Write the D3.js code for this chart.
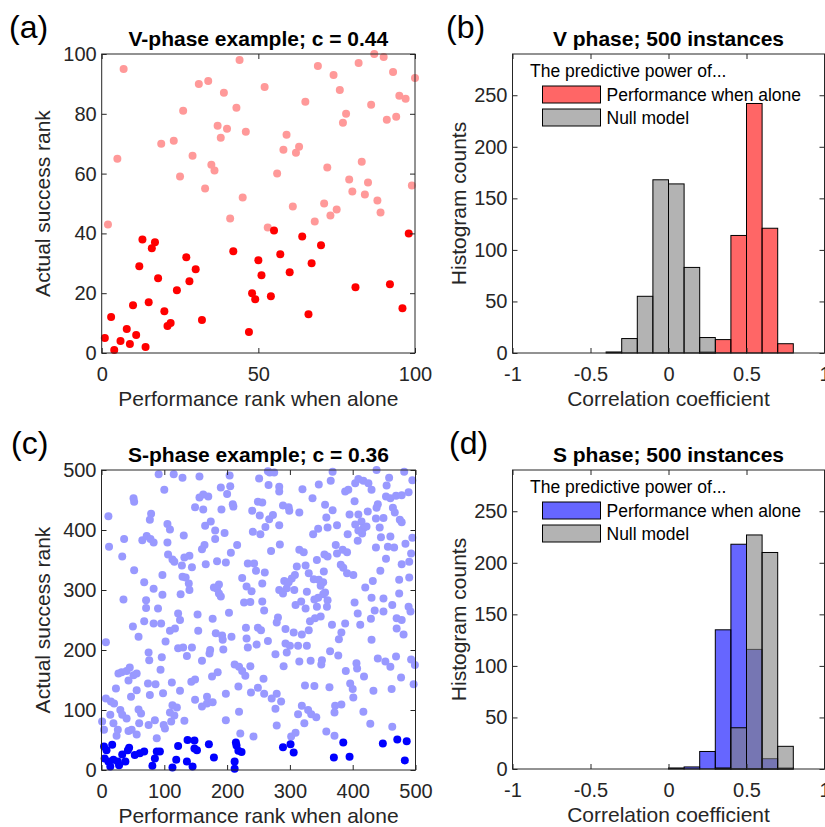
<!DOCTYPE html>
<html lang="en">
<head>
<meta charset="UTF-8">
<title>Predictive power of performance when alone</title>
<script src="https://cdn.jsdelivr.net/npm/d3@7/dist/d3.min.js"></script>
<style>
body { margin: 0; background: #fff; }
text { font-family: Arial, "Liberation Sans", Helvetica, sans-serif; }
.axis .tick text { fill: #262626; font-size: 20px; }
.axis .tick line { stroke: #262626; }
.axis path { display: none; }
</style>
</head>
<body>
<svg width="825" height="827"></svg>
<script>
// ---- panel (a): V-phase example, 100 agents ----
var vTopPts = [[7,95],[44,98],[87,100],[90,99],[69,96],[82,97],[74,93],[93,94],[100,92],[31,90],[34,91],[39,87],[52,89],[76,88],[95,86],[97,85],[65,84],[86,83],[43,82],[26,81],[78,80],[77,77],[91,78],[94,79],[37,76],[40,75],[46,74],[38,72],[59,73],[19,70],[23,71],[58,68],[63,69],[62,67],[5,65],[29,66],[35,63],[36,61],[72,62],[83,64],[56,60],[25,59],[79,58],[85,57],[99,56],[33,55],[80,54],[84,53],[45,52],[88,51],[71,50],[61,49],[89,47],[75,48],[73,46],[41,45],[68,44],[2,43],[53,42]];
var vBottomPts = [[55,41],[98,40],[13,38],[17,37],[16,35],[64,39],[70,36],[42,34],[57,33],[27,32],[50,31],[67,30],[12,29],[30,28],[60,27],[51,26],[18,25],[28,24],[92,23],[81,22],[24,21],[48,20],[54,19],[49,18],[15,17],[10,16],[96,15],[20,14],[66,13],[3,12],[32,11],[22,10],[21,9],[8,8],[47,7],[11,6],[1,5],[6,4],[9,3],[14,2],[4,1]];

// ---- panel (c): S-phase example, 500 agents ----
var sTopPts = [
[91,493],[115,493],[129,487],[156,489],[204,491],[100,467],[190,471],[205,473],[200,460],[51,453],[52,447],[156,454],[162,459],[170,456],[209,443],[210,439],[11,423],[79,427],[77,417],[149,438],[162,434],[191,434],[240,432],[105,410],[109,401],[165,407],[174,414],[181,399],[196,395],[241,397],[36,385],[65,383],[72,390],[78,385],[83,379],[105,379],[131,391],[181,385],[12,372],[164,375],[160,368],[216,375],[33,356],[106,359],[113,351],[116,347],[132,354],[140,357],[206,362],[166,343],[184,348],[198,346],[128,341],[144,338],[233,344],[243,344],[52,333],[97,325],[129,322],[134,321],[139,311],[140,300],[224,320],[68,313],[83,302],[97,292],[126,293],[179,304],[187,309],[184,302],[187,294],[190,289],[231,306],[239,298],[35,284],[71,283],[71,270],[90,269],[227,279],[237,280],[122,261],[153,259],[203,262],
[265,498],[268,496],[275,496],[368,497],[438,500],[482,497],[495,483],[251,486],[266,475],[283,472],[283,464],[320,468],[346,476],[365,482],[404,478],[409,485],[417,482],[425,478],[430,467],[458,487],[454,474],[453,456],[460,453],[469,457],[478,458],[489,463],[388,464],[393,467],[249,447],[256,446],[336,453],[403,448],[289,441],[298,438],[299,432],[315,429],[356,442],[368,433],[440,443],[438,437],[464,437],[467,429],[424,431],[395,426],[409,426],[437,419],[449,420],[475,417],[478,413],[252,424],[267,418],[273,425],[283,408],[261,405],[358,421],[360,404],[375,408],[345,402],[337,393],[404,409],[414,414],[417,403],[422,406],[415,394],[409,399],[443,404],[253,393],[392,393],[495,387],[445,388],[460,389],[408,382],[484,377],[284,376],[373,375],[437,371],[456,372],[466,371],[493,361],[270,365],[315,367],[322,363],[355,359],[360,356],[375,361],[384,367],[391,363],[343,350],[453,352],[478,343],[490,347],[311,339],[325,341],[381,342],[385,337],[391,328],[401,325],[354,331],[308,325],[330,328],[338,318],[260,329],[246,332],[444,332],[474,317],[490,321],[303,319],[291,315],[298,313],[346,317],[353,313],[349,307],[356,296],[353,293],[432,315],[420,304],[256,311],[283,300],[295,303],[307,300],[289,294],[327,297],[345,287],[339,284],[360,283],[430,287],[449,286],[474,294],[318,281],[309,275],[325,269],[343,272],[359,272],[403,279],[463,275],[256,281],[259,266],[435,266],[449,264],[489,272],[492,264],[408,261],
[68,248],[83,244],[95,244],[125,250],[177,252],[50,239],[7,213],[59,222],[109,232],[117,236],[102,214],[154,232],[182,228],[192,224],[193,217],[207,222],[230,237],[231,219],[122,203],[130,204],[144,204],[136,190],[173,200],[172,194],[194,201],[233,204],[75,196],[76,183],[96,188],[160,182],[212,176],[219,172],[224,165],[229,157],[237,173],[27,161],[32,163],[40,165],[45,171],[51,158],[56,161],[43,149],[94,167],[74,144],[86,143],[112,146],[143,147],[149,151],[176,156],[185,163],[23,136],[56,133],[47,122],[77,125],[98,128],[125,132],[168,122],[149,117],[198,127],[218,139],[238,129],[7,119],[15,114],[20,111],[160,106],[168,111],[177,113],[30,100],[33,92],[40,86],[14,92],[1,81],[19,78],[4,67],[26,67],[24,57],[59,101],[63,94],[60,78],[75,75],[85,83],[101,69],[99,75],[109,96],[113,108],[120,104],[116,91],[111,81],[132,82],[43,65],[48,67],[56,59],[88,53],[198,83],[219,97],[221,61],[242,56],
[281,254],[279,246],[332,248],[340,253],[349,256],[367,242],[388,244],[412,242],[429,252],[470,253],[478,250],[249,237],[254,233],[293,235],[306,229],[319,226],[330,233],[382,229],[378,218],[470,236],[481,226],[247,209],[265,215],[293,211],[300,207],[313,207],[327,207],[277,193],[295,196],[364,198],[377,191],[430,217],[315,181],[333,182],[351,183],[350,176],[406,178],[407,169],[389,165],[418,156],[440,186],[452,181],[460,172],[469,189],[493,184],[499,175],[290,173],[477,154],[497,143],[258,152],[249,137],[259,127],[271,119],[279,127],[286,114],[277,102],[324,141],[339,140],[363,138],[396,144],[400,135],[401,121],[433,132],[462,135],[319,107],[329,100],[334,93],[342,88],[313,93],[323,78],[372,107],[382,109],[371,96],[417,97],[428,77],[279,74],[302,56],[309,62],[358,64],[371,57],[463,72]
];
var sBottomPts = [[4,39],[17,42],[8,33],[5,19],[11,14],[19,17],[14,6],[26,14],[28,8],[33,26],[42,33],[44,37],[38,14],[53,25],[61,28],[68,31],[88,31],[93,31],[85,19],[81,7],[122,40],[137,50],[148,49],[148,36],[152,33],[171,43],[119,17],[136,14],[113,4],[145,6],[179,21],[214,46],[215,41],[218,32],[223,30],[212,14],[212,2],[289,38],[301,43],[306,29],[370,21],[385,46],[395,22],[448,44],[471,51],[486,48],[483,16]];

// ---- panels (b), (d): histograms of correlation coefficients, 500 instances ----
var binEdges = [-1,-0.9,-0.8,-0.7,-0.6,-0.5,-0.4,-0.3,-0.2,-0.1,0,0.1,0.2,0.3,0.4,0.5,0.6,0.7,0.8,0.9,1];
var vPerfCounts = [0,0,0,0,0,0,0,0,0,0,0,0,1,13,114,242,121,9,0,0];
var vNullCounts = [0,0,0,0,0,0,1,14,55,168,164,83,15,0,0,0,0,0,0,0];
var sPerfCounts = [0,0,0,0,0,0,0,0,0,0,1,2,17,135,218,116,10,1,0,0];
var sNullCounts = [0,0,0,0,0,0,0,0,0,0,0,0,0,1,40,227,210,22,0,0];

var rankTicksV = [0,20,40,60,80,100];
var rankTicksXV = [0,50,100];
var rankTicksS = [0,100,200,300,400,500];
var corrTicks = [-1,-0.5,0,0.5,1];
var countTicks = [0,50,100,150,200,250];

var svg = d3.select("svg");
var axisColor = "#262626";
var plain = function(d) { return String(d); };   // keep "-1" with a hyphen, like the original

function frame(x, y, xTicks, yTicks) {
  var x0 = x.range()[0], x1 = x.range()[1], y0 = y.range()[0], y1 = y.range()[1];
  var g = svg.append("g");
  g.append("g").attr("class", "axis").attr("transform", "translate(0," + y0 + ")")
    .call(d3.axisBottom(x).tickValues(xTicks).tickSizeInner(-5).tickSizeOuter(0).tickPadding(14).tickFormat(plain));
  g.append("g").attr("class", "axis").attr("transform", "translate(0," + y1 + ")")
    .call(d3.axisTop(x).tickValues(xTicks).tickSizeInner(-5).tickSizeOuter(0).tickFormat(""));
  g.append("g").attr("class", "axis").attr("transform", "translate(" + x0 + ",0)")
    .call(d3.axisLeft(y).tickValues(yTicks).tickSizeInner(-5).tickSizeOuter(0).tickPadding(5).tickFormat(plain));
  g.append("g").attr("class", "axis").attr("transform", "translate(" + x1 + ",0)")
    .call(d3.axisRight(y).tickValues(yTicks).tickSizeInner(-5).tickSizeOuter(0).tickFormat(""));
  g.selectAll(".tick text").attr("font-size", 20);
  g.append("rect")
    .attr("x", x0).attr("y", y1)
    .attr("width", x1 - x0).attr("height", y0 - y1)
    .attr("fill", "none").attr("stroke", axisColor).attr("stroke-width", 1);
  return g;
}

function labels(x, y, title, xlab, ylab, ylabX, panel, panelX) {
  var x0 = x.range()[0], x1 = x.range()[1], y0 = y.range()[0], y1 = y.range()[1];
  var cx = (x0 + x1) / 2, cy = (y0 + y1) / 2;
  svg.append("text").attr("x", cx).attr("y", y1 - 8)
    .attr("text-anchor", "middle").attr("font-size", 21).attr("font-weight", "bold")
    .attr("fill", "#000").text(title);
  svg.append("text").attr("x", cx).attr("y", y0 + 53)
    .attr("text-anchor", "middle").attr("font-size", 21)
    .attr("fill", axisColor).text(xlab);
  svg.append("text").attr("transform", "translate(" + ylabX + "," + cy + ") rotate(-90)")
    .attr("text-anchor", "middle").attr("font-size", 21)
    .attr("fill", axisColor).text(ylab);
  svg.append("text").attr("x", panelX).attr("y", y1 - 16)
    .attr("font-size", 32).attr("fill", "#000").text(panel);
}

function scatter(x, y, light, dark, lightColor, darkColor) {
  var g = svg.append("g");
  g.selectAll("circle.l").data(light).enter().append("circle")
    .attr("class", "l")
    .attr("cx", function(d) { return x(d[0]); })
    .attr("cy", function(d) { return y(d[1]); })
    .attr("r", 4)
    .attr("fill", lightColor);
  g.selectAll("circle.d").data(dark).enter().append("circle")
    .attr("class", "d")
    .attr("cx", function(d) { return x(d[0]); })
    .attr("cy", function(d) { return y(d[1]); })
    .attr("r", 4)
    .attr("fill", darkColor);
}

function histo(x, y, counts, color) {
  svg.append("g").selectAll("rect").data(counts).enter().append("rect")
    .attr("x", function(d, i) { return x(binEdges[i]); })
    .attr("width", function(d, i) { return x(binEdges[i + 1]) - x(binEdges[i]); })
    .attr("y", function(d) { return y(d); })
    .attr("height", function(d) { return y(0) - y(d); })
    .attr("fill", color).attr("fill-opacity", 0.6)
    .attr("stroke", "#000").attr("stroke-width", 1);
}

function legend(x, y, perfColor) {
  var lx = x.range()[0], ty = y.range()[1];
  var g = svg.append("g");
  g.append("text").attr("x", lx + 17.5).attr("y", ty + 23)
    .attr("font-size", 17.5).attr("fill", "#000").text("The predictive power of...");
  var items = [["Performance when alone", perfColor], ["Null model", "#808080"]];
  items.forEach(function(it, i) {
    var top = ty + 32 + i * 23;
    g.append("rect").attr("x", lx + 30).attr("y", top).attr("width", 58).attr("height", 17)
      .attr("fill", it[1]).attr("fill-opacity", 0.6)
      .attr("stroke", "#000").attr("stroke-width", 1);
    g.append("text").attr("x", lx + 94).attr("y", top + 8.5).attr("dy", "0.35em")
      .attr("font-size", 17.5).attr("fill", "#000").text(it[0]);
  });
}

// (a)
var xa = d3.scaleLinear().domain([0, 100]).range([101.7, 415]);
var ya = d3.scaleLinear().domain([0, 100]).range([353, 54]);
scatter(xa, ya, vTopPts, vBottomPts, "#ff9999", "#ff0000");
frame(xa, ya, rankTicksXV, rankTicksV);
labels(xa, ya, "V-phase example; c = 0.44", "Performance rank when alone", "Actual success rank", 50, "(a)", 9);

// (b)
var xb = d3.scaleLinear().domain([-1, 1]).range([512.5, 824.5]);
var yb = d3.scaleLinear().domain([0, 290]).range([353, 54]);
histo(xb, yb, vPerfCounts, "#ff0000");
histo(xb, yb, vNullCounts, "#808080");
frame(xb, yb, corrTicks, countTicks);
legend(xb, yb, "#ff0000");
labels(xb, yb, "V phase; 500 instances", "Correlation coefficient", "Histogram counts", 466, "(b)", 446);

// (c)
var xc = d3.scaleLinear().domain([0, 500]).range([101.5, 415.5]);
var yc = d3.scaleLinear().domain([0, 500]).range([770, 470]);
scatter(xc, yc, sTopPts, sBottomPts, "#9999ff", "#0000ff");
frame(xc, yc, rankTicksS, rankTicksS);
labels(xc, yc, "S-phase example; c = 0.36", "Performance rank when alone", "Actual success rank", 50, "(c)", 11);

// (d)
var xd = d3.scaleLinear().domain([-1, 1]).range([512.5, 824.5]);
var yd = d3.scaleLinear().domain([0, 290]).range([769, 470]);
histo(xd, yd, sPerfCounts, "#0000ff");
histo(xd, yd, sNullCounts, "#808080");
frame(xd, yd, corrTicks, countTicks);
legend(xd, yd, "#0000ff");
labels(xd, yd, "S phase; 500 instances", "Correlation coefficient", "Histogram counts", 466, "(d)", 449);
</script>
</body>
</html>
